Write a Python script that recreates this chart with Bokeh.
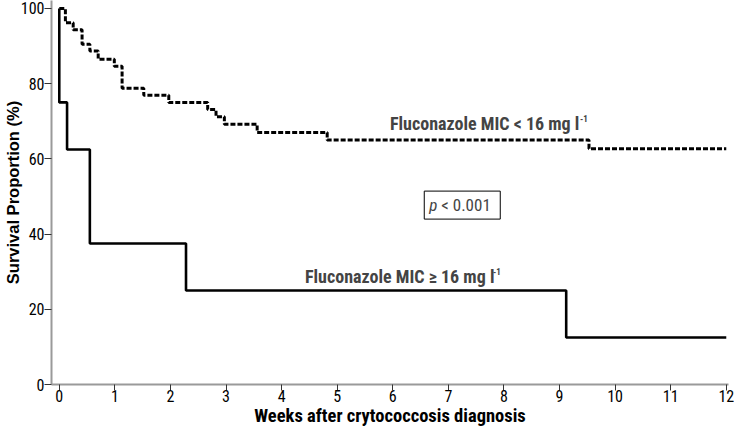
from bokeh.plotting import figure
from bokeh.models import Label, Range1d, FixedTicker
from bokeh.embed import file_html
from bokeh.resources import INLINE

# Kaplan-Meier estimates (weeks, survival %)
low_mic_weeks = [0, 0.11, 0.25, 0.41, 0.55, 0.70, 0.99, 1.13, 1.52, 1.97, 2.67, 2.82, 2.97, 3.56, 4.82, 9.53, 12]
low_mic_surv = [100, 96.2, 94.3, 90.5, 88.7, 86.5, 84.6, 78.8, 76.9, 75.0, 73.1, 71.2, 69.2, 67.0, 65.0, 62.7, 62.7]

high_mic_weeks = [0, 0.0, 0.14, 0.55, 2.28, 9.12, 12]
high_mic_surv = [100, 75, 62.5, 37.5, 25, 12.5, 12.5]

x_ticks = list(range(0, 13))
y_ticks = [0, 20, 40, 60, 80, 100]

label_low = "Fluconazole MIC < 16 mg l"
label_high = "Fluconazole MIC \u2265 16 mg l"
p_text = "< 0.001"

SANS = "Liberation Sans"
COND = "Roboto Condensed"

p = figure(width=734, height=429, output_backend="svg", toolbar_location=None,
           x_range=Range1d(-0.14, 12.04), y_range=Range1d(0, 102.1),
           min_border_left=44, min_border_right=6, min_border_top=0, min_border_bottom=44)
p.outline_line_color = None
p.grid.visible = False
p.background_fill_color = "white"

for ax in (p.xaxis[0], p.yaxis[0]):
    ax.axis_line_color = "#9a9a9a"
    ax.axis_line_width = 2
    ax.major_tick_line_color = "#333333"
    ax.major_tick_line_width = 1
    ax.minor_tick_line_color = None
    ax.major_label_text_font = COND
    ax.major_label_text_font_size = "16px"
    ax.major_label_text_color = "black"
    ax.axis_label_text_font_style = "bold"
    ax.axis_label_text_color = "black"

p.xaxis.axis_label_text_font = COND
p.xaxis.axis_label_text_font_size = "18.5px"
p.yaxis.axis_label_text_font = SANS
p.yaxis.axis_label_text_font_size = "16.5px"

p.xaxis.ticker = FixedTicker(ticks=x_ticks)
p.yaxis.ticker = FixedTicker(ticks=y_ticks)
p.xaxis.major_tick_in = 0
p.xaxis.major_tick_out = 6
p.yaxis.major_tick_in = 0
p.yaxis.major_tick_out = 7
p.xaxis.major_label_standoff = -1
p.yaxis.major_label_standoff = 0
p.xaxis.axis_label = "Weeks after crytococcosis diagnosis"
p.yaxis.axis_label = "Survival Proportion (%)"
p.xaxis.axis_label_standoff = 0
p.yaxis.axis_label_standoff = -4

p.step(low_mic_weeks, low_mic_surv, mode="after", line_color="black",
       line_width=3, line_dash="5 2")
p.step(high_mic_weeks, high_mic_surv, mode="after", line_color="black", line_width=2.6)

# curve labels with superscript -1
LOW_X, LOW_Y = 5.95, 69.3
HIGH_X, HIGH_Y = 4.42, 28.6
for lx, ly, txt, sup_dx in ((LOW_X, LOW_Y, label_low, 190), (HIGH_X, HIGH_Y, label_high, 188)):
    p.add_layout(Label(x=lx, y=ly, text=txt, text_font=COND, text_font_style="bold",
                       text_font_size="18px", text_baseline="middle", text_align="left"))
    p.add_layout(Label(x=lx, y=ly, x_offset=sup_dx, y_offset=5, text="-1", text_font=COND,
                       text_font_style="bold", text_font_size="9px",
                       text_baseline="middle", text_align="left"))

# p-value box
PX, PY = 7.25, 47.7
p.rect(x=[PX], y=[PY], width=76, height=28, width_units="screen", height_units="screen",
       fill_color=None, line_color="black", line_width=1)
p.add_layout(Label(x=PX, y=PY, x_offset=-33, text="p", text_font=COND, text_font_style="italic",
                   text_font_size="17px", text_baseline="middle", text_align="left"))
p.add_layout(Label(x=PX, y=PY, x_offset=-21, text=p_text, text_font=COND,
                   text_font_size="17px", text_baseline="middle", text_align="left"))

open("out.html", "w").write(file_html(p, INLINE))
